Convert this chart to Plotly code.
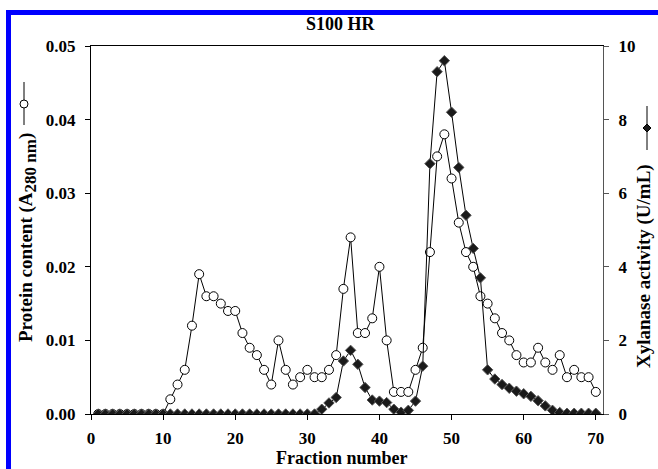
import plotly.graph_objects as go

fractions = list(range(1, 71))
protein = [0.0] * 10 + [
    0.002, 0.004, 0.006, 0.012, 0.019, 0.016, 0.016, 0.015, 0.014, 0.014,
    0.011, 0.009, 0.008, 0.006, 0.004, 0.010, 0.006, 0.004, 0.005, 0.006,
    0.005, 0.005, 0.006, 0.008, 0.017, 0.024, 0.011, 0.011, 0.013, 0.020,
    0.010, 0.003, 0.003, 0.003, 0.006, 0.009, 0.022, 0.035, 0.038, 0.032,
    0.026, 0.022, 0.020, 0.016, 0.015, 0.013, 0.011, 0.010, 0.008, 0.007,
    0.007, 0.009, 0.007, 0.006, 0.008, 0.005, 0.006, 0.005, 0.005, 0.003]
xylanase = [0.0] * 31 + [
    0.13, 0.30, 0.45, 1.44, 1.73, 1.35, 0.72, 0.38, 0.35,
    0.31, 0.13, 0.05, 0.10, 0.35, 1.30, 6.80, 9.30, 9.60, 8.20,
    6.70, 5.40, 4.50, 3.70, 1.20, 0.95, 0.80, 0.70, 0.62, 0.55,
    0.48, 0.36, 0.22, 0.10, 0.04, 0.02, 0.02, 0.02, 0.02, 0.02]
x_ticks = [0, 10, 20, 30, 40, 50, 60, 70]
y1_ticks = [0.00, 0.01, 0.02, 0.03, 0.04, 0.05]
y2_ticks = [0, 2, 4, 6, 8, 10]

W, H = 658, 469
L, R, T, B = 91, 55, 46, 55
PW, PH = W - L - R, H - T - B

def px(x):
    return (x - L) / PW

def py(y):
    return (H - B - y) / PH

SERIF = "Liberation Serif"
tick_font = dict(family=SERIF, size=17, color="black", weight="bold")

fig = go.Figure()
fig.add_trace(go.Scatter(
    x=fractions, y=protein, mode="lines+markers", yaxis="y",
    line=dict(color="black", width=1),
    marker=dict(symbol="circle", size=9, color="white", line=dict(color="black", width=1)),
    showlegend=False))
fig.add_trace(go.Scatter(
    x=fractions, y=xylanase, mode="lines+markers", yaxis="y2",
    line=dict(color="black", width=1),
    marker=dict(symbol="diamond", size=8, color="#1a1a1a", line=dict(color="#555", width=1)),
    showlegend=False))

fig.update_layout(
    width=W, height=H,
    margin=dict(l=L, r=R, t=T, b=B),
    paper_bgcolor="white", plot_bgcolor="white",
    xaxis=dict(range=[0, 71], tickvals=x_ticks, ticks="outside", ticklen=5,
               tickcolor="black", showline=True, linecolor="black", linewidth=1,
               mirror=True, showgrid=False, zeroline=False, tickfont=tick_font,
               ticklabelstandoff=4),
    yaxis=dict(range=[0, 0.05], tickvals=y1_ticks, tickformat=".2f",
               ticks="outside", ticklen=5, tickcolor="black", showline=True,
               linecolor="black", linewidth=1, showgrid=False, zeroline=False,
               tickfont=tick_font, ticklabelstandoff=6),
    yaxis2=dict(range=[0, 10], tickvals=y2_ticks, overlaying="y", side="right",
                ticks="outside", ticklen=5, tickcolor="#555", showline=True,
                linecolor="#555", linewidth=1, showgrid=False, zeroline=False,
                tickfont=tick_font, ticklabelstandoff=6),
)

ann_font = dict(family=SERIF, size=19, color="black", weight="bold")
annotations = [
    dict(text="S100 HR", x=px(341), y=py(24), xref="paper", yref="paper",
         showarrow=False, font=dict(family=SERIF, size=18, color="black", weight="bold"),
         xanchor="center", yanchor="middle"),
    dict(text="Fraction number", x=px(341), y=py(469), xref="paper", yref="paper",
         showarrow=False, font=dict(family=SERIF, size=18, color="black", weight="bold"),
         xanchor="center", yanchor="bottom", borderpad=0),
    dict(text="Protein content (A<sub><span style='font-size:17px'>280 nm</span></sub>)",
         x=px(27), y=py(238),
         xref="paper", yref="paper", showarrow=False, font=ann_font,
         textangle=-90, xanchor="center", yanchor="middle"),
    dict(text="Xylanase activity (U/mL)", x=px(644), y=py(266),
         xref="paper", yref="paper", showarrow=False, font=ann_font,
         textangle=-90, xanchor="center", yanchor="middle"),
]
fig.update_layout(annotations=annotations)

shapes = [
    # blue frame
    dict(type="rect", xref="paper", yref="paper", x0=px(6), x1=px(W + 5),
         y0=py(15), y1=py(10), fillcolor="#0000ff", line=dict(width=0), layer="above"),
    dict(type="rect", xref="paper", yref="paper", x0=px(6), x1=px(11),
         y0=py(H + 5), y1=py(10), fillcolor="#0000ff", line=dict(width=0), layer="above"),
    # left legend symbol
    dict(type="line", xref="paper", yref="paper", x0=px(24), x1=px(24),
         y0=py(82), y1=py(125), line=dict(color="black", width=1)),
    dict(type="circle", xref="paper", yref="paper", x0=px(20), x1=px(28),
         y0=py(108), y1=py(100), fillcolor="white", line=dict(color="black", width=1)),
    # right legend symbol
    dict(type="line", xref="paper", yref="paper", x0=px(647), x1=px(647),
         y0=py(106), y1=py(150), line=dict(color="black", width=1)),
    dict(type="path", xref="paper", yref="paper",
         path="M {a},{b} L {c},{d} L {a},{e} L {f},{d} Z".format(
             a=px(647), b=py(124), c=px(651), d=py(128), e=py(132), f=px(643)),
         fillcolor="#1a1a1a", line=dict(color="black", width=1)),
]
fig.update_layout(shapes=shapes)

fig.write_html("out.html")
